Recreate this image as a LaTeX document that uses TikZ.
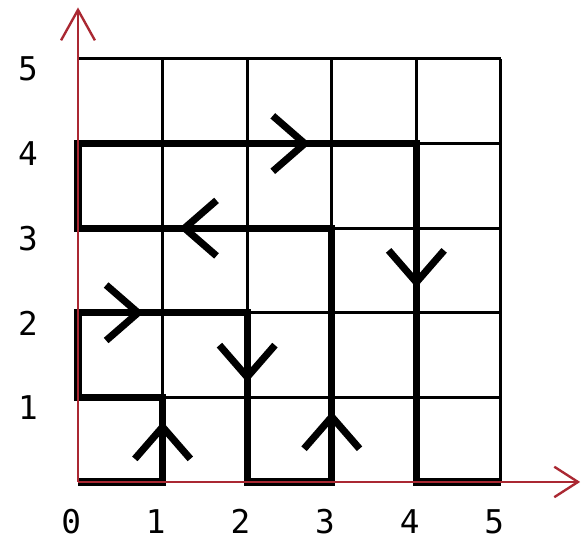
\documentclass[tikz,border=0pt]{standalone}
\usepackage{fontspec}
\setmonofont{DejaVu Sans Mono}
\usepackage{tikz}
\usetikzlibrary{arrows.meta, calc}
\definecolor{axisred}{RGB}{170, 40, 50}

\begin{document}
\begin{tikzpicture}
    \useasboundingbox (-0.922,-0.733) rectangle (5.946,5.697);
    \tikzset{
        gridline/.style={line width=1pt, black},
        walk/.style={line width=2.4pt, black},
        chevron/.style={line width=2.4pt, black},
        axisline/.style={line width=0.8pt, axisred},
        ticklabel/.style={font=\fontsize{11}{13}\selectfont\ttfamily}
    }

    % Grid
    \foreach \i in {1,...,5} {
        \draw[gridline] (\i,0) -- (\i,5);
        \draw[gridline] (0,\i) -- (5,\i);
    }

    % Path
    \draw[walk] (0,0) -- (1,0) -- (1,1) -- (0,1) -- (0,2) -- (2,2) -- (2,0)
        -- (3,0) -- (3,3) -- (0,3) -- (0,4) -- (4,4) -- (4,0) -- (5,0);

    % Direction marks
    \foreach \x/\y/\a in {1/0.65/90, 0.71/2/0, 2/1.24/-90, 3/0.77/90,
                          1.26/3/180, 2.68/4/0, 4/2.36/-90}
        \draw[chevron] (\x,\y) ++(\a+139:0.5) -- (\x,\y) -- ++(\a-139:0.5);

    % Axes
    \coordinate (O) at (0,0);
    \coordinate (xend) at (5.91,0);
    \coordinate (yend) at (0,5.58);
    \draw[axisline] (O) -- (xend);
    \draw[axisline] (O) -- (yend);
    \draw[axisline] ($(xend)+(-0.28,0.18)$) -- (xend) -- ($(xend)+(-0.28,-0.18)$);
    \draw[axisline] ($(yend)+(-0.2,-0.36)$) -- (yend) -- ($(yend)+(0.2,-0.36)$);

    % Labels
    \foreach \i in {0,...,5}
        \node[ticklabel] (xl\i) at (\i-0.08,-0.47) {\i};
    \foreach \i in {1,...,5}
        \node[ticklabel] (yl\i) at (-0.59,\i-0.12) {\i};
\end{tikzpicture}
\end{document}
